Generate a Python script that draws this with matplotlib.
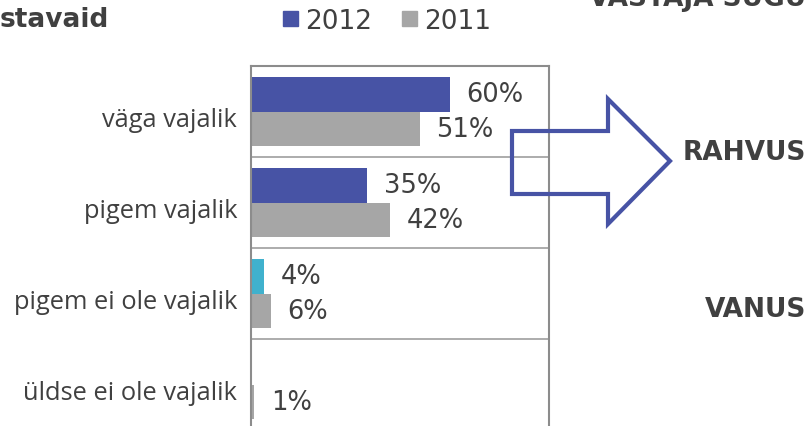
import numpy as np
import matplotlib
matplotlib.use("Agg")
import matplotlib.pyplot as plt
from matplotlib.patches import Patch, Polygon
from matplotlib.transforms import ScaledTranslation

# data
categories = ["väga vajalik", "pigem vajalik", "pigem ei ole vajalik", "üldse ei ole vajalik"]
vals_2012 = [60, 35, 4, 0]
vals_2011 = [51, 42, 6, 1]
series_names = ["2012", "2011"]

BLUE = "#4753A5"
CYAN = "#40B1CD"
GREY = "#A6A6A6"
TEXT = "#404040"
FRAME = "#8C8C8C"

W, H = 807, 427
DPI = 100


def fx(px):
    return px / W


def fy(py):
    return 1 - py / H


fig = plt.figure(figsize=(W / DPI, H / DPI), dpi=DPI)

# axes: left 251, right 549, top 67, bottom runs past the image edge (431)
ax = fig.add_axes([fx(251), fy(431), fx(549) - fx(251), fy(67) - fy(431)])

y = np.arange(len(categories))
h = 0.38
colors_2012 = [CYAN if c == "pigem ei ole vajalik" else BLUE for c in categories]

bars_a = ax.barh(y - h / 2, vals_2012, height=h, color=colors_2012)
bars_b = ax.barh(y + h / 2, vals_2011, height=h, color=GREY)

for bars, vals in [(bars_a, vals_2012), (bars_b, vals_2011)]:
    for b, v in zip(bars, vals):
        if v == 0:
            continue
        ax.annotate(f"{v}%", (v, b.get_y() + b.get_height() / 2),
                    xytext=(12, 0), textcoords="offset points",
                    ha="left", va="center", fontsize=18.5, color=TEXT)

ax.set_xlim(0, 90)
ax.set_ylim(len(categories) - 0.5, -0.5)
ax.set_xticks([])
ax.set_yticks(y)
ax.set_yticklabels(categories, fontsize=18.3, color=TEXT, family="Open Sans")
ax.tick_params(axis="y", length=0, pad=10)
# category labels sit a little below the band centre in the original
shift = ScaledTranslation(0, -0.055, fig.dpi_scale_trans)
for lab in ax.get_yticklabels():
    lab.set_transform(lab.get_transform() + shift)
ax.set_yticks(np.arange(len(categories) - 1) + 0.5, minor=True)
ax.tick_params(axis="y", which="minor", length=0)
ax.grid(axis="y", which="minor", color=GREY, lw=1.3)
ax.set_axisbelow(True)
for s in ax.spines.values():
    s.set_color(FRAME)
    s.set_linewidth(1.5)

# legend
handles = [Patch(color=BLUE), Patch(color=GREY)]
fig.legend(handles, series_names, loc="center", bbox_to_anchor=(fx(387), fy(22)),
           ncol=2, frameon=False, fontsize=19, labelcolor=TEXT,
           handlelength=0.57, handleheight=0.53, handletextpad=0.27,
           columnspacing=1.1, borderpad=0, borderaxespad=0)

# slide texts that the crop cuts at its edges
fig.text(fx(0), fy(27), "stavaid", fontsize=19, fontweight="bold", color=TEXT,
         ha="left", va="baseline")
fig.text(fx(806), fy(6), "VASTAJA SUGU", fontsize=19, fontweight="bold", color=TEXT,
         ha="right", va="baseline")
fig.text(fx(806), fy(160), "RAHVUS", fontsize=19, fontweight="bold", color=TEXT,
         ha="right", va="baseline")
fig.text(fx(806), fy(317), "VANUS", fontsize=19, fontweight="bold", color=TEXT,
         ha="right", va="baseline")

# block arrow outline
arrow_px = [(512, 132), (608, 132), (608, 100), (670, 162), (608, 225), (608, 195), (512, 195)]
fig.add_artist(Polygon([(fx(a), fy(b)) for a, b in arrow_px], closed=True,
                       transform=fig.transFigure, fill=False, edgecolor=BLUE,
                       lw=3, joinstyle="miter"))

fig.savefig("out.png", dpi=DPI)
